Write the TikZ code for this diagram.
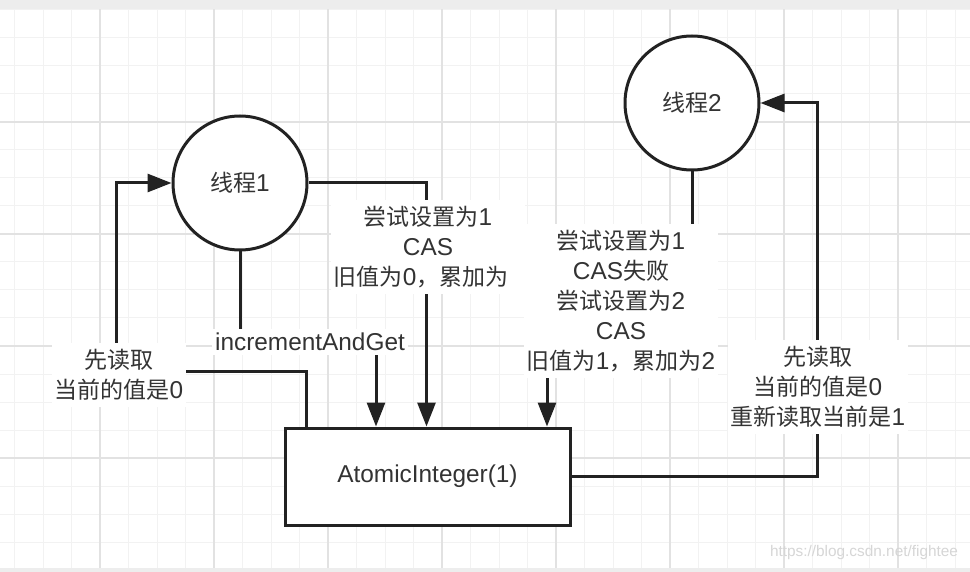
\documentclass[tikz,border=0pt]{standalone}
\usepackage{fontspec}
\setmainfont{Liberation Sans}[Scale=1.06]
\newfontfamily\cjk{Noto Sans CJK SC}
\usetikzlibrary{arrows.meta,backgrounds}
\newcommand{\zh}[1]{{\cjk #1}}
\definecolor{ln}{HTML}{222222}
\definecolor{txt}{HTML}{333333}
\definecolor{gminor}{HTML}{F2F2F2}
\definecolor{gmajor}{HTML}{E2E2E2}
\definecolor{band}{HTML}{EDEDED}
\definecolor{wm}{HTML}{D6D6D6}
\begin{document}
\begin{tikzpicture}[x=1pt,y=-1pt,
  base/.style={text=txt, font=\fontsize{23}{30}\selectfont},
  lbl/.style={base, fill=white, inner xsep=3pt, inner ysep=6pt, align=center},
  thread/.style={base, circle, draw=ln, line width=3pt, fill=white, minimum size=134pt, inner sep=0pt},
  boxst/.style={base, rectangle, draw=ln, line width=3pt, fill=white, minimum width=285pt, minimum height=97pt, inner sep=0pt},
  conn/.style={draw=ln, line width=3pt},
  arr/.style={conn, -{Triangle[length=24pt,width=18pt]}}]
\useasboundingbox (0,0) rectangle (970,572);

% nodes
\node[thread] (c1) at (240,183) {\zh{线程}1};
\node[thread] (c2) at (692,103) {\zh{线程}2};
\node[boxst] (box) at (427.5,476.5) {AtomicInteger(1)};

\coordinate (a1) at (116,371);
\coordinate (b1) at (376,342);
\coordinate (d1) at (547,300);
\coordinate (e1) at (817,103);

\node[lbl] (L1) at (119,375) {\zh{先读取}\\\zh{当前的值是}0};
\node[lbl, inner ysep=4pt] (L2) at (310,342) {incrementAndGet};
\node[lbl] (L3) at (428,247) {\zh{尝试设置为}1\\CAS\\\zh{旧值为}0\zh{，累加为}\phantom{1}};
\node[lbl] (L4) at (621,301) {\zh{尝试设置为}1\\CAS\zh{失败}\\\zh{尝试设置为}2\\CAS\\\zh{旧值为}1\zh{，累加为}2};
\node[lbl] (L5) at (818,387) {\zh{先读取}\\\zh{当前的值是}0\\\zh{重新读取当前是}1};
\node[text=wm, font=\fontsize{14.5}{16}\selectfont, inner sep=0pt] (wmk) at (864,553) {https://blog.csdn.net/fightee};

\begin{scope}[on background layer]
  \fill[white] (0,0) rectangle (970,572);
  \foreach \k in {0,...,34} {
    \draw[gminor, line width=1pt] ({100+28.5*(\k-3)},9) -- ({100+28.5*(\k-3)},568);
  }
  \foreach \k in {0,...,20} {
    \draw[gminor, line width=1pt] (0,{122+28*(\k-4)}) -- (970,{122+28*(\k-4)});
  }
  \foreach \k in {0,...,7} {
    \draw[gmajor, line width=1.2pt] ({100+114*\k},9) -- ({100+114*\k},568);
  }
  \foreach \k in {0,...,4} {
    \draw[gmajor, line width=1.2pt] (0,{122+112*\k}) -- (970,{122+112*\k});
  }
  \fill[band] (0,0) rectangle (970,9);
  \fill[band] (0,568) rectangle (970,572);

  \draw[arr] ([xshift=23pt]box.north west) |- (a1) |- (c1.west);
  \draw[arr] (c1.south) |- (b1) -- (b1 |- box.north);
  \draw[arr] (c1.east) -| ([xshift=143pt]box.north west);
  \draw[arr] (c2.south) |- (d1) -- (d1 |- box.north);
  \draw[arr] (box.east) -| (e1) -- (c2.east);
\end{scope}
\end{tikzpicture}
\end{document}
